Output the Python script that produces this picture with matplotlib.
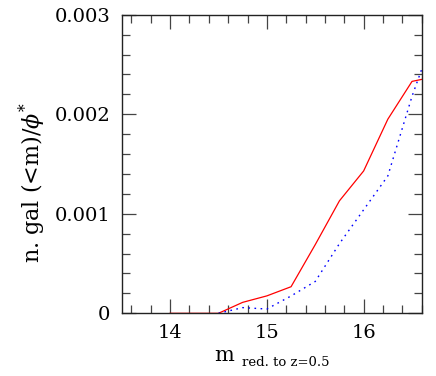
import numpy as np
import matplotlib
matplotlib.use("Agg")
import matplotlib.pyplot as plt
from matplotlib.ticker import MultipleLocator

plt.rcParams['font.family'] = ['DejaVu Serif']
plt.rcParams['mathtext.fontset'] = 'dejavuserif'

# magnitude grid
mag = [14.0, 14.25, 14.5, 14.75, 15.0, 15.25, 15.5, 15.75, 16.0, 16.25, 16.5, 16.75]
# cumulative counts / phi*, red solid curve
red_vals = [0.0, 0.0, 0.0, 0.00011, 0.000175, 0.000267, 0.00069, 0.00113,
            0.00143, 0.00195, 0.00233, 0.00238]
# blue dotted curve (starts at 14.5)
blue_mag = [14.5, 14.75, 15.0, 15.25, 15.5, 15.75, 16.0, 16.25, 16.5, 16.75]
blue_vals = [0.0, 0.000057, 0.000043, 0.000174, 0.00032, 0.0007,
             0.00104, 0.00138, 0.00218, 0.00286]

W, H = 436, 376
fig = plt.figure(figsize=(W / 100, H / 100), dpi=100)
ax = fig.add_axes([121.7 / W, 1 - 313.3 / H, 300 / W, 298.6 / H])

ax.plot(mag, red_vals, color='red', lw=0.9)
ax.plot(blue_mag, blue_vals, color='blue', lw=1.0, linestyle=(0, (1.2, 3.2)))

ax.set_xlim(13.5, 16.6)
ax.set_ylim(0, 0.003)
ax.xaxis.set_major_locator(MultipleLocator(1))
ax.xaxis.set_minor_locator(MultipleLocator(0.2))
ax.yaxis.set_major_locator(MultipleLocator(0.001))
ax.yaxis.set_minor_locator(MultipleLocator(0.0002))
ax.set_yticks([0, 0.001, 0.002, 0.003])
ax.set_yticklabels(['0', '0.001', '0.002', '0.003'])
ax.set_xticks([14, 15, 16])
ax.set_xticklabels(['14', '15', '16'])

ax.tick_params(which='both', direction='in', top=True, right=True, width=0.9,
               color='#444444')
ax.tick_params(which='major', length=10, labelsize=14, pad=8)
ax.tick_params(which='minor', length=5.5)
for s in ax.spines.values():
    s.set_linewidth(1.0)
    s.set_color('#222222')

# axis labels
fig.text(32 / W, 1 - 182 / H, r'n. gal (<m)/$\phi^{*}$', rotation=90,
         ha='center', va='center', fontsize=16)
fig.text(214 / W, 1 - 361 / H, 'm', fontsize=15, ha='left', va='baseline')
fig.text(242 / W, 1 - 366 / H, 'red. to z=0.5', fontsize=9.5, ha='left',
         va='baseline')

fig.savefig('out.png', dpi=100)
